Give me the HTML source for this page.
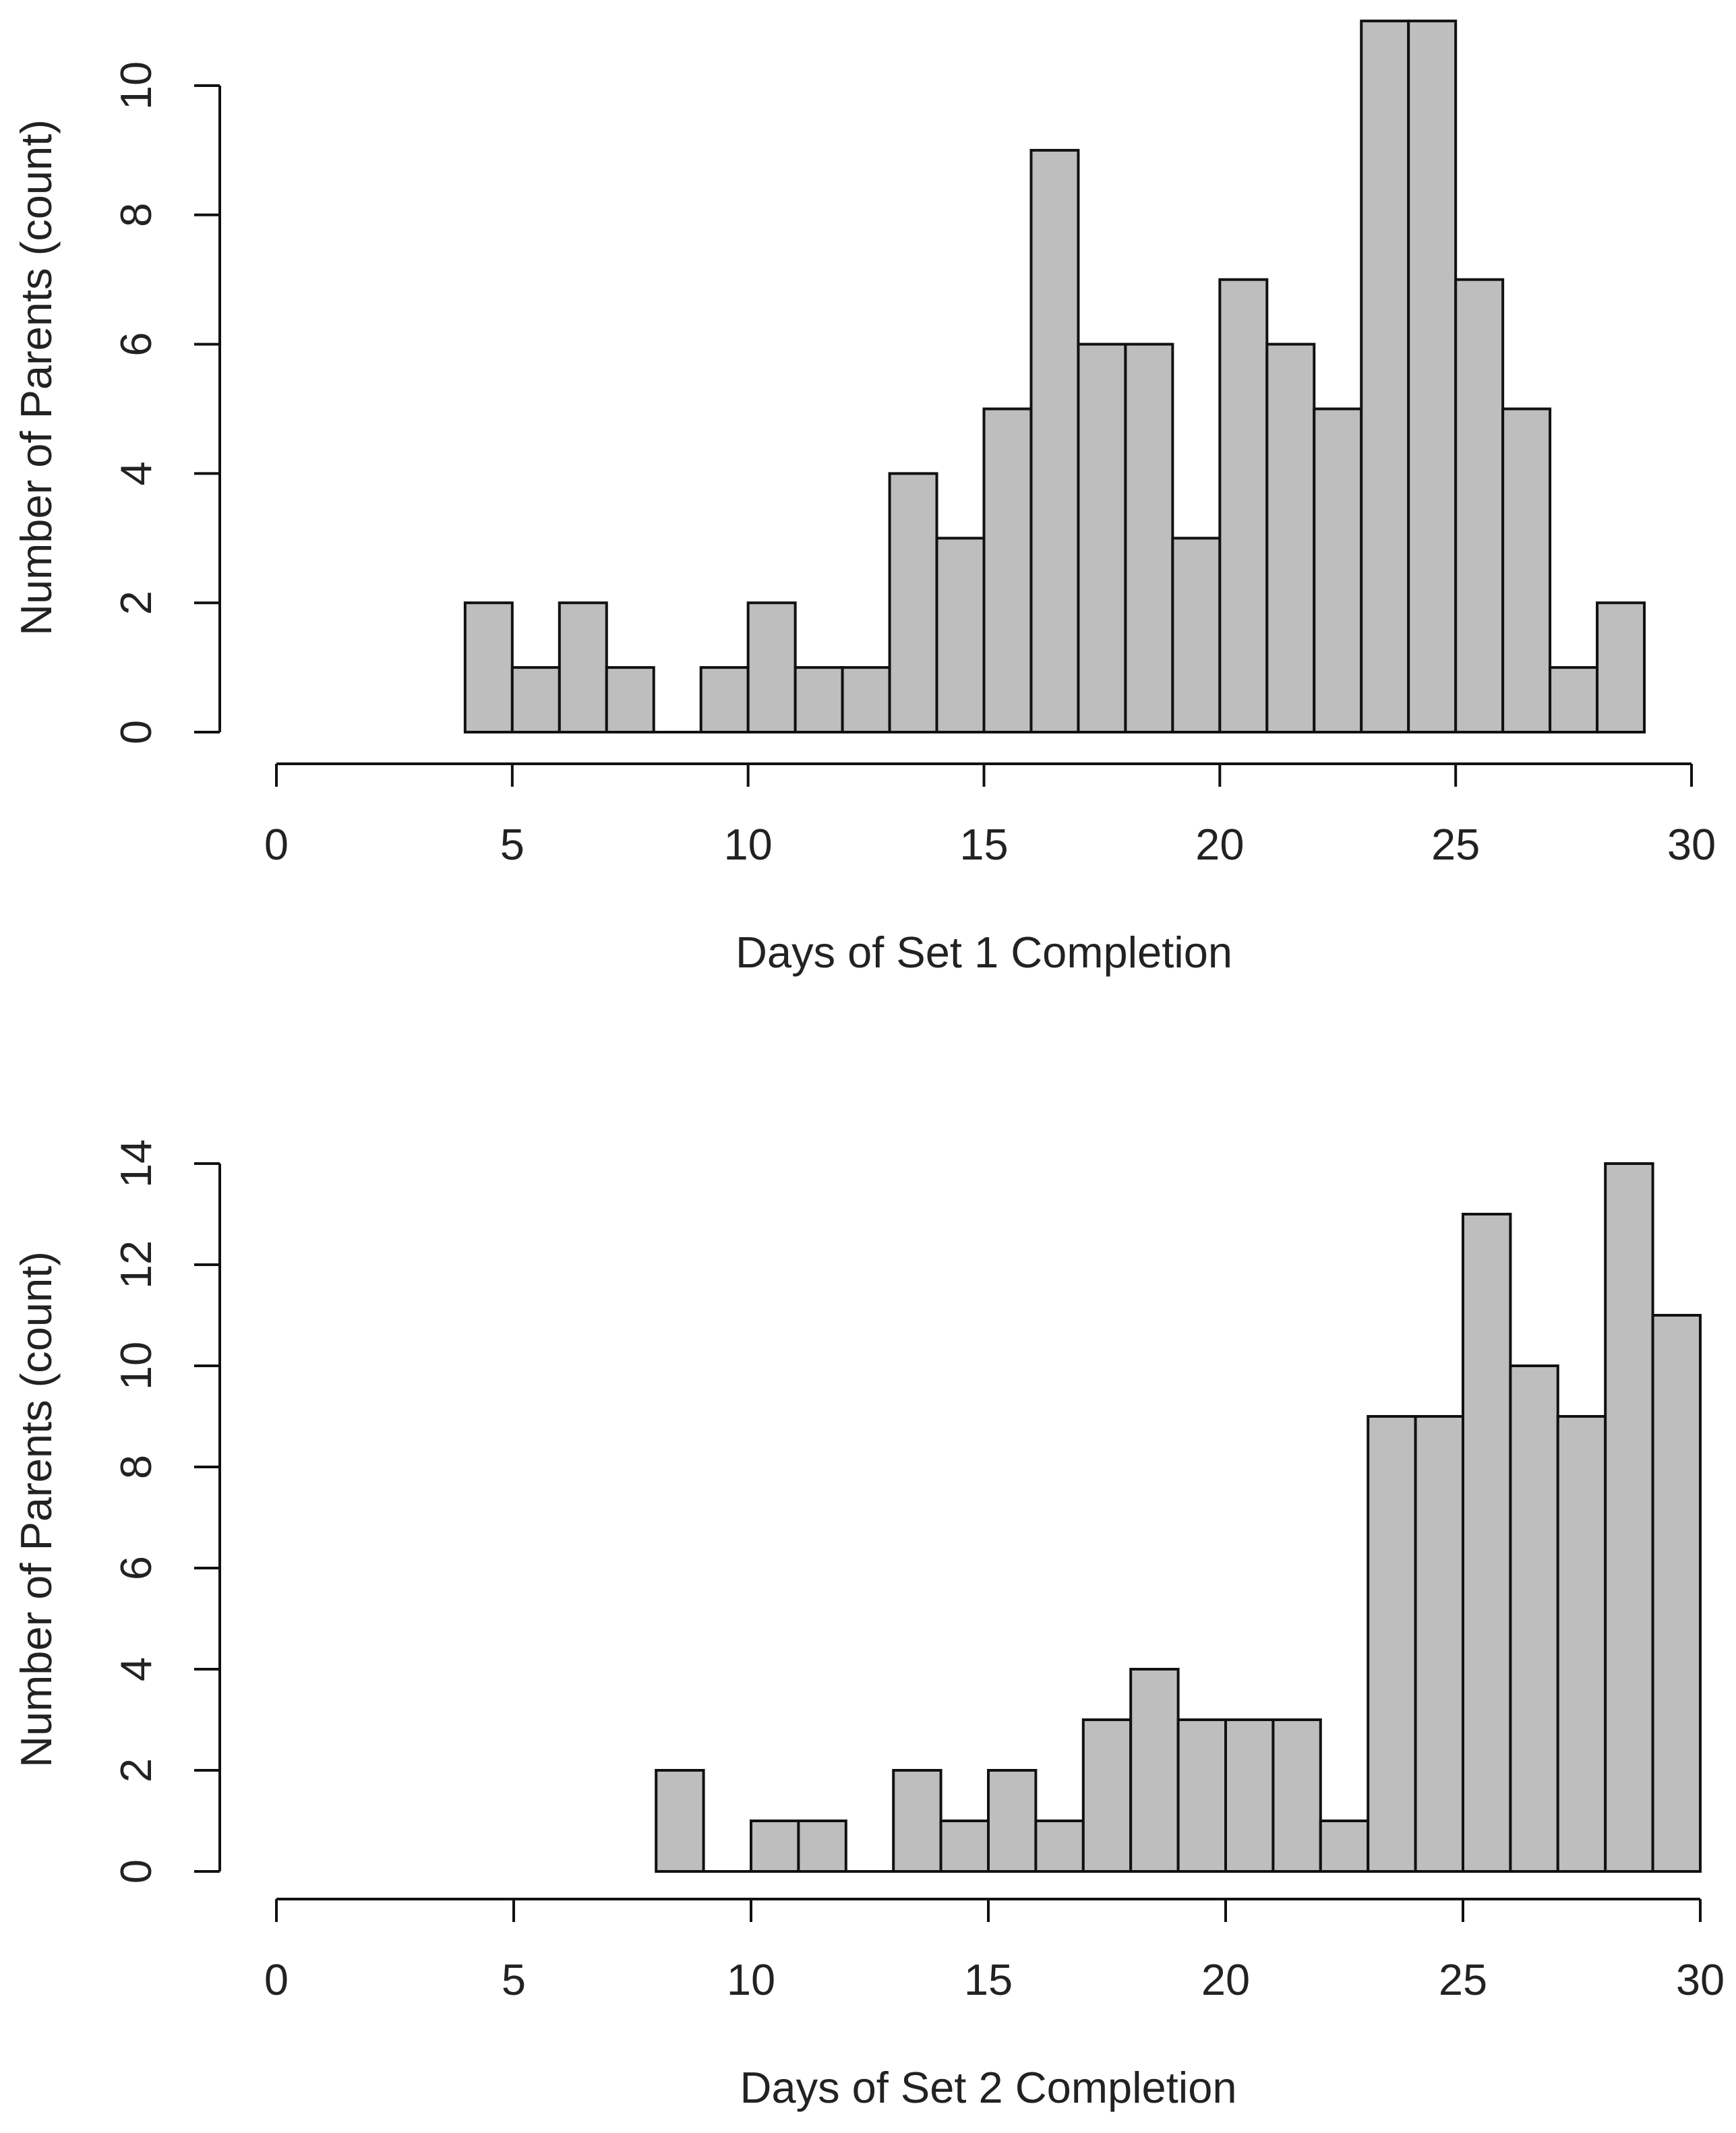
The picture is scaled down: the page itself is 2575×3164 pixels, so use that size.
<!DOCTYPE html>
<html><head><meta charset="utf-8"><style>
html,body{margin:0;padding:0;background:#fff;}
svg{display:block;font-family:"Liberation Sans",sans-serif;}
</style></head><body>
<svg id="chart" width="2575" height="3164" viewBox="0 0 2575 3164" xmlns="http://www.w3.org/2000/svg"></svg>
<script>
const set1Start = 4;
const set1Counts = [2,1,2,1,0,1,2,1,1,4,3,5,9,6,6,3,7,6,5,11,11,7,5,1,2];
const set1YTicks = [0,2,4,6,8,10];
const set2Start = 8;
const set2Counts = [2,0,1,1,0,2,1,2,1,3,4,3,3,3,1,9,9,13,10,9,14,11];
const set2YTicks = [0,2,4,6,8,10,12,14];
const xTicks = [0,5,10,15,20,25,30];

const svg = document.getElementById('chart');
const NS = 'http://www.w3.org/2000/svg';
function mk(tag, attrs, parent){
  const e = document.createElementNS(NS, tag);
  for (const k in attrs) e.setAttribute(k, attrs[k]);
  parent.appendChild(e);
  return e;
}
function panel(cfg){
  const g = mk('g', {}, svg);
  
  
  const xs = v => cfg.x0 + v * (cfg.x30 - cfg.x0) / 30;
  const ys = v => cfg.y0 - v * (cfg.y0 - cfg.yTop) / cfg.yMax;
  cfg.counts.forEach((c, i) => {
    if (c <= 0) return;
    const a = cfg.start + i, b = a + 1;
    const r = mk('rect', {x: xs(a), y: ys(c), width: xs(b) - xs(a), height: ys(0) - ys(c), fill: '#bebebe', stroke: '#111', 'stroke-width': 4}, g);
    
    
  });
  cfg.counts.forEach((c, i) => {
    if (c !== 0) return;
    const a = cfg.start + i;
    const l = mk('line', {x1: xs(a), x2: xs(a + 1), y1: ys(0), y2: ys(0), stroke: '#111', 'stroke-width': 4}, g);
    
    
  });
  const ya = mk('g', {}, g);
  
  
  const yt = cfg.yTicks;
  mk('line', {x1: 326, x2: 326, y1: ys(yt[0]), y2: ys(yt[yt.length - 1]), stroke: '#111', 'stroke-width': 4}, ya);
  yt.forEach(t => {
    mk('line', {x1: 288, x2: 326, y1: ys(t), y2: ys(t), stroke: '#111', 'stroke-width': 4}, ya);
    const tx = mk('text', {x: 0, y: 0, 'font-size': 65, fill: '#222', 'text-anchor': 'middle', transform: 'translate(224,' + ys(t) + ') rotate(-90)'}, ya);
    tx.textContent = t;
    
    
  });
  const yTitle = mk('text', {x: 0, y: 0, 'font-size': 65, fill: '#222', 'text-anchor': 'middle', transform: 'translate(76,' + cfg.yTitleY + ') rotate(-90)'}, g);
  yTitle.textContent = 'Number of Parents (count)';
  
  
  const xa = mk('g', {}, g);
  
  
  mk('line', {x1: xs(xTicks[0]), x2: xs(xTicks[xTicks.length - 1]), y1: cfg.xAxisY, y2: cfg.xAxisY, stroke: '#111', 'stroke-width': 4}, xa);
  xTicks.forEach(t => {
    mk('line', {x1: xs(t), x2: xs(t), y1: cfg.xAxisY, y2: cfg.xAxisY + 34, stroke: '#111', 'stroke-width': 4}, xa);
    const tx = mk('text', {x: xs(t), y: cfg.xAxisY + 142, 'font-size': 65, fill: '#222', 'text-anchor': 'middle'}, xa);
    tx.textContent = t;
    
    
  });
  const xTitle = mk('text', {x: (xs(0) + xs(30)) / 2, y: cfg.xAxisY + 302, 'font-size': 65, fill: '#222', 'text-anchor': 'middle'}, g);
  xTitle.textContent = cfg.xTitle;
  
  
}
panel({name: 'set1-histogram', start: set1Start, counts: set1Counts, yTicks: set1YTicks, yMax: 10,
  x0: 410, x30: 2509, y0: 1086, yTop: 127, xAxisY: 1133, yTitleY: 560, xTitle: 'Days of Set 1 Completion'});
panel({name: 'set2-histogram', start: set2Start, counts: set2Counts, yTicks: set2YTicks, yMax: 14,
  x0: 410, x30: 2522, y0: 2776, yTop: 1726, xAxisY: 2817, yTitleY: 2239, xTitle: 'Days of Set 2 Completion'});
</script>
</body></html>
